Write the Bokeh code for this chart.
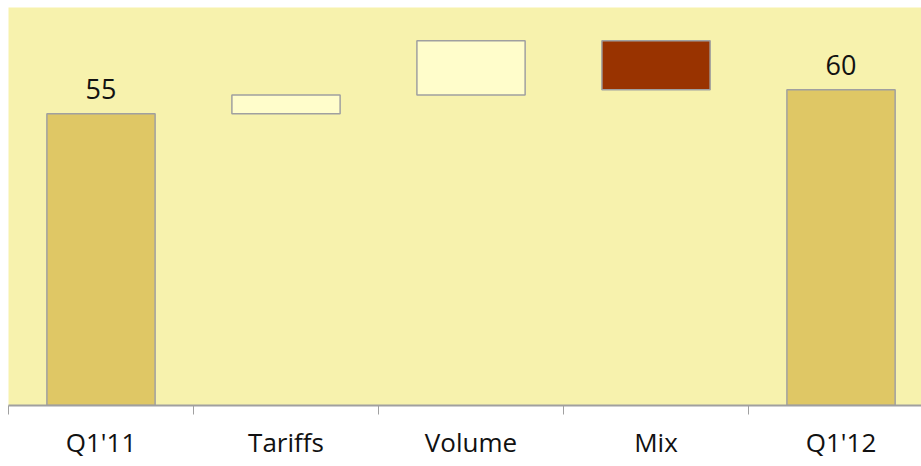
from bokeh.plotting import figure
from bokeh.models import ColumnDataSource, Range1d, FixedTicker
from bokeh.embed import file_html
from bokeh.resources import INLINE
from bokeh.core.properties import value

# ---- data ----
categories = ["Q1'11", "Tariffs", "Volume", "Mix", "Q1'12"]
start_value = 55
deltas = [3.5, 10.25, -9.25]
end_value = 59.5
kinds = ["total", "increase", "increase", "decrease", "total"]

# ---- waterfall geometry from data ----
bottoms, tops = [0], [start_value]
running = start_value
for d in deltas:
    bottoms.append(min(running, running + d))
    tops.append(max(running, running + d))
    running += d
bottoms.append(0)
tops.append(end_value)
xs = list(range(len(categories)))
palette = {"total": "#DFC765", "increase": "#FFFDCB", "decrease": "#993300"}
fills = [palette[k] for k in kinds]

src = ColumnDataSource(dict(x=xs, bottom=bottoms, top=tops, fill=fills))

p = figure(width=921, height=466, output_backend="svg", toolbar_location=None,
           title=None, x_range=Range1d(-0.5, 4.435), y_range=Range1d(0, 75),
           min_border_left=8, min_border_right=0, min_border_top=7, min_border_bottom=61)
p.background_fill_color = "#F7F2AD"
p.border_fill_color = "white"
p.outline_line_color = None
p.grid.visible = False
p.yaxis.visible = False

p.vbar(x="x", bottom="bottom", top="top", width=0.585, fill_color="fill",
       line_color="#A0A0A0", line_width=1.5, source=src)

# total labels
lab_x = [xs[0], xs[-1]]
lab_y = [start_value, end_value]
lab_t = [f"{v:.0f}" for v in lab_y]
p.text(x=lab_x, y=lab_y, text=lab_t, text_align="center", text_baseline="bottom",
       y_offset=-15, text_font=value("Open Sans"),
       text_font_size="27px", text_color="#111111")

ax = p.xaxis[0]
ax.ticker = FixedTicker(ticks=xs, minor_ticks=[i - 0.5 for i in range(len(categories) + 1)])
ax.major_label_overrides = {i: c for i, c in enumerate(categories)}
ax.major_tick_line_color = None
ax.major_tick_out = 0
ax.major_tick_in = 0
ax.minor_tick_out = 9
ax.minor_tick_in = 0
ax.minor_tick_line_color = "#A0A0A0"
ax.minor_tick_line_width = 1
ax.axis_line_color = "#A0A0A0"
ax.axis_line_width = 2
ax.major_label_text_font = "Open Sans"
ax.major_label_text_font_size = "26px"
ax.major_label_text_color = "#111111"
ax.major_label_standoff = 9

open("out.html", "w").write(file_html(p, INLINE))
